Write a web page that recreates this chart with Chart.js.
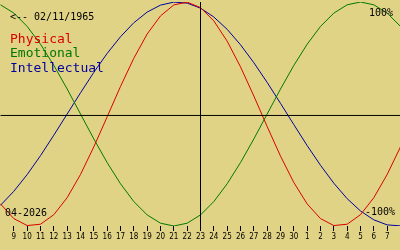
<!DOCTYPE html>
<html>
<head>
<meta charset="utf-8">
<script src="https://cdn.jsdelivr.net/npm/chart.js@4/dist/chart.umd.min.js"></script>
<style>
html,body{margin:0;padding:0;background:#E1D385;}
#wrap{position:relative;width:400px;height:250px;}
canvas{display:block;}
</style>
</head>
<body>
<div id="wrap"><canvas id="c" width="400" height="250"></canvas></div>
<script>
// Day positions (day 8 .. 38; 31+ wraps into next month)
const days = [8,9,10,11,12,13,14,15,16,17,18,19,20,21,22,23,24,25,26,27,28,29,30,31,32,33,34,35,36,37,38];
const physical = [-0.803,-0.934,-0.996,-0.984,-0.899,-0.747,-0.540,-0.293,-0.025,0.246,0.498,0.714,0.876,0.974,0.999,0.950,0.831,0.650,0.421,0.161,-0.112,-0.376,-0.612,-0.803,-0.934,-0.996,-0.984,-0.899,-0.747,-0.540,-0.293];
const emotional = [0.975,0.901,0.782,0.623,0.434,0.223,0.000,-0.223,-0.434,-0.623,-0.782,-0.901,-0.975,-1.000,-0.975,-0.901,-0.782,-0.623,-0.434,-0.223,0.000,0.223,0.434,0.623,0.782,0.901,0.975,1.000,0.975,0.901,0.782];
const intellectual = [-0.815,-0.690,-0.541,-0.372,-0.189,0.000,0.189,0.372,0.541,0.690,0.815,0.910,0.972,0.999,0.990,0.945,0.866,0.756,0.618,0.458,0.282,0.095,-0.095,-0.282,-0.458,-0.618,-0.756,-0.866,-0.945,-0.990,-0.999];
const tickDays = [9,10,11,12,13,14,15,16,17,18,19,20,21,22,23,24,25,26,27,28,29,30,31,32,33,34,35,36,37];
const tickLabels = ['9','10','11','12','13','14','15','16','17','18','19','20','21','22','23','24','25','26','27','28','29','30','1','2','3','4','5','6','7'];
const todayDay = 23;
const baselineLevel = -0.013; // the drawn zero line sits slightly below the curves' midline
const birthLabel = '<-- 02/11/1965';
const monthLabel = '04-2026';
const seriesNames = ['Physical','Emotional','Intellectual'];
const seriesColors = ['#D80000','#007800','#0000A0'];

const pts = arr => days.map((d,i)=>({x:d,y:arr[i]}));

const textPlugin = {
  id:'texts',
  afterDraw(chart){
    const ctx = chart.ctx;
    ctx.save();
    ctx.textBaseline = 'alphabetic';
    ctx.textAlign = 'left';
    ctx.fillStyle = '#000';
    ctx.font = '10px "DejaVu Sans Mono"';
    ctx.fillText(birthLabel, 10, 20);
    ctx.fillText('100%', 369, 16);
    ctx.fillText(monthLabel, 5, 216);
    ctx.fillText('-100%', 365, 215);
    ctx.font = '13px "DejaVu Sans Mono"';
    const ys = [43,57,72];
    seriesNames.forEach((n,i)=>{ ctx.fillStyle = seriesColors[i]; ctx.fillText(n, 10, ys[i]); });
    ctx.restore();
  }
};

new Chart(document.getElementById('c'), {
  type:'line',
  data:{
    datasets:[
      {data:[{x:days[0],y:baselineLevel},{x:days[days.length-1],y:baselineLevel}], borderColor:'#000', borderWidth:1, pointRadius:0},
      {data:[{x:todayDay,y:1.03},{x:todayDay,y:-1}], borderColor:'#000', borderWidth:1, pointRadius:0},
      {label:seriesNames[0], data:pts(physical), borderColor:seriesColors[0], borderWidth:1, pointRadius:0, tension:0},
      {label:seriesNames[1], data:pts(emotional), borderColor:seriesColors[1], borderWidth:1, pointRadius:0, tension:0},
      {label:seriesNames[2], data:pts(intellectual), borderColor:seriesColors[2], borderWidth:1, pointRadius:0, tension:0}
    ]
  },
  options:{
    responsive:false,
    animation:false,
    events:[],
    layout:{padding:{top:2,left:0,right:0,bottom:0}},
    plugins:{legend:{display:false}, tooltip:{enabled:false}},
    elements:{line:{fill:false}},
    scales:{
      x:{
        type:'linear', min:7.9625, max:37.9625,
        afterBuildTicks(s){ s.ticks = tickDays.map(v=>({value:v})); },
        afterFit(s){ s.height = 24; },
        grid:{display:true, drawOnChartArea:false, drawTicks:true, tickLength:5, tickColor:'#000', color:'#000', lineWidth:1},
        border:{display:false},
        ticks:{
          autoSkip:false, maxRotation:0, minRotation:0, padding:1,
          color:'#000',
          font:{family:'"Liberation Sans Narrow", "DejaVu Sans Condensed", sans-serif', size:8, weight:'normal'},
          callback(v){ const i = tickDays.indexOf(v); return i>=0 ? tickLabels[i] : ''; }
        }
      },
      y:{display:false, min:-1, max:1}
    }
  },
  plugins:[textPlugin]
});
</script>
</body>
</html>
